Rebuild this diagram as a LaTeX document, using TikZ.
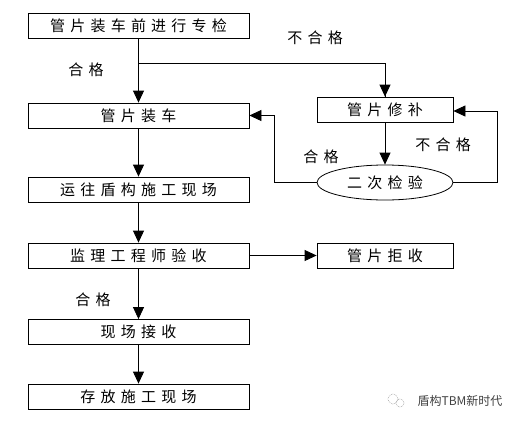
\documentclass[tikz,border=0pt]{standalone}
\usepackage{fontspec}
\newfontfamily\cjk[LetterSpace=35]{Noto Sans CJK SC}
\newfontfamily\cjkw{Noto Sans CJK SC}
\usetikzlibrary{arrows.meta,shapes.geometric}
\tikzset{
  box/.style={draw, line width=0.8pt, minimum width=221pt, minimum height=25pt, inner sep=0pt, font=\cjk\fontsize{15}{15}\selectfont},
  sbox/.style={draw, line width=0.8pt, minimum width=136pt, minimum height=25pt, inner sep=0pt, font=\cjk\fontsize{15}{15}\selectfont},
  oval/.style={draw, ellipse, line width=0.8pt, minimum width=136pt, minimum height=35pt, inner sep=0pt, font=\cjk\fontsize{15}{15}\selectfont},
  lab/.style={font=\cjk\fontsize{15}{15}\selectfont, inner sep=0pt},
  conn/.style={line width=0.8pt, -{Triangle[length=12pt,width=11pt]}},
  plain/.style={line width=0.8pt}
}
\begin{document}
\begin{tikzpicture}[x=1pt,y=-1pt]
\useasboundingbox (0,0) rectangle (531,424);
\node[box] (b1) at (138.5,25.5) {管片装车前进行专检};
\node[box] (b2) at (138.5,115.5) {管片装车};
\node[box] (b3) at (138.5,189.5) {运往盾构施工现场};
\node[box] (b4) at (138.5,255.5) {监理工程师验收};
\node[box] (b5) at (138.5,332) {现场接收};
\node[box] (b6) at (138.5,396.5) {存放施工现场};
\node[sbox] (r1) at (385,109.5) {管片修补};
\node[oval] (e) at (385,182.5) {二次检验};
\node[sbox] (r2) at (385,255.5) {管片拒收};
\coordinate (j) at (138.5,63);
\coordinate (lc) at (274,182.5);
\coordinate (rc) at (497,182.5);
\draw[conn] (b1.south) -- (b2.north);
\draw[plain] (j) -| (r1.north);
\draw[conn] (385,90) -- (r1.north);
\draw[conn] (r1.south) -- (e.north);
\draw[plain] (e.west) -- (lc);
\draw[conn] (lc) |- (b2.east);
\draw[plain] (e.east) -- (rc);
\draw[conn] (rc) |- ([yshift=-1.5pt]r1.east);
\draw[conn] (b2.south) -- (b3.north);
\draw[conn] (b3.south) -- (b4.north);
\draw[conn] (b4.east) -- (r2.west);
\draw[conn] (b4.south) -- (b5.north);
\draw[conn] (b5.south) -- (b6.north);
\node[lab] (l1) at (315,38) {不合格};
\node[lab] (l2) at (86,70) {合格};
\node[lab] (l3) at (321,157) {合格};
\node[lab] (l4) at (443,145) {不合格};
\node[lab] (l5) at (93,300) {合格};
\node[font=\cjkw\fontsize{12}{12}\selectfont, text=black!75, inner sep=0pt] (wm) at (460,401) {盾构TBM新时代};
\draw[black!50, line width=0.5pt, densely dotted] (393,399) circle (5pt);
\draw[black!50, line width=0.5pt, densely dotted] (400,403) circle (4pt);
\end{tikzpicture}
\end{document}
